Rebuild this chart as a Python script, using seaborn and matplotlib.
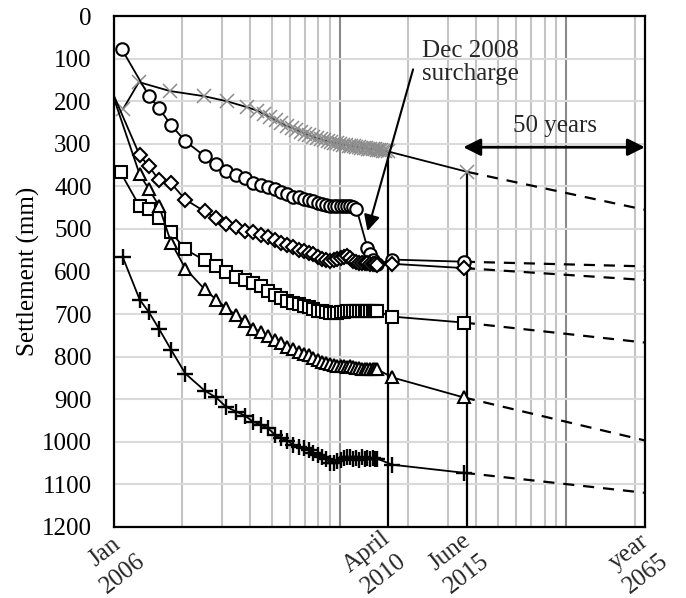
import matplotlib
matplotlib.use("Agg")
import matplotlib.pyplot as plt
import seaborn as sns

# time axis is logarithmic (arbitrary units, Jan 2006 = 1)
t_obs = [1.30, 1.43, 1.58, 1.79, 2.07, 2.52, 2.83, 3.13, 3.47, 3.80,
         4.12, 4.45, 4.80, 5.15, 5.50, 5.85, 6.20, 6.55, 6.90, 7.25,
         7.60, 7.95, 8.30, 8.65, 9.00, 9.35, 9.70, 10.05, 10.4, 10.75,
         11.1, 11.45, 11.8, 12.15, 12.5, 12.85, 13.2, 13.55, 13.9, 14.25, 14.6]
t_april = 17.0
t_june = 35.2
t_end = 222.0

date_ticks = [1.0, 16.3, 36.5, 222.0]
date_labels = ["Jan\n2006", "April\n2010", "June\n2015", "year\n2065"]
date_label_pos = [1.0, 14.3, 33.3, 206.0]

# gauge with x markers (grey)
xs_t = [1.096, 1.29, 1.77, 2.50, 3.16, 3.88, 4.3, 4.6, 4.9, 5.2, 5.5, 5.8, 6.1,
        6.4, 6.7, 7.0, 7.3, 7.6, 7.9, 8.2, 8.5, 8.8, 9.1, 9.4, 9.7, 10.0, 10.3,
        10.6, 10.9, 11.2, 11.5, 11.8, 12.1, 12.4, 12.7, 13.0, 13.3, 13.6, 13.9,
        14.2, 14.5, 14.8, 15.1, 15.4, 15.7, 16.3, 36.5]
xs_v = [219, 155, 176, 188, 200, 214, 222, 230, 238, 245, 252, 258, 262, 267,
        272, 276, 280, 283, 287, 289, 292, 294, 296, 297, 299, 300, 302, 303,
        304, 305, 306, 307, 308, 309, 310, 309, 311, 312, 312, 313, 314, 315,
        315, 316, 317, 318, 366]
xs_end = 455

circle_t = [1.085] + t_obs[1:33] + t_obs[36:] + [t_april, t_june]
circle_v = [78, 188, 216, 256, 294, 329, 348, 364, 374, 381, 391, 396, 401,
            407, 413, 419, 424, 426, 429, 431, 435, 438, 441, 443, 446, 447,
            447, 447, 446, 447, 447, 448, 452, 545, 560, 572, 580, 583, 572, 577]
circle_end = 588

diamond_t = [0.96] + t_obs + [t_april, t_june]
diamond_v = [165, 327, 353, 385, 393, 431, 459, 475, 489, 496, 506,
             508, 514, 519, 527, 532, 538, 542, 549, 553, 556,
             560, 565, 570, 572, 576, 574, 571, 568, 566, 563,
             568, 576, 578, 579, 580, 581, 580, 582, 583, 582, 584, 582, 592]
diamond_end = 620

square_t = [1.07] + t_obs + [t_april, t_june]
square_v = [367, 447, 454, 475, 508, 548, 574, 588, 602, 612, 619,
            628, 635, 645, 656, 663, 669, 673, 677, 680, 684,
            689, 692, 694, 696, 697, 698, 697, 696, 695, 694,
            694, 693, 692, 693, 694, 692, 692, 693, 694, 693, 694, 706, 720]
square_end = 767

triangle_t = [0.96] + t_obs + [t_april, t_june]
triangle_v = [165, 372, 407, 445, 532, 593, 642, 666, 685, 703, 717,
              734, 742, 752, 760, 768, 778, 783, 789, 793, 797,
              803, 808, 812, 815, 818, 820, 822, 823, 823, 824,
              823, 825, 826, 827, 828, 829, 829, 830, 830, 829, 830, 849, 896]
triangle_end = 997

plus_t = [1.096] + t_obs + [t_april, t_june]
plus_v = [567, 666, 696, 734, 784, 840, 880, 896, 918, 929, 939,
          953, 960, 968, 984, 992, 998, 1007, 1012, 1015, 1019,
          1026, 1031, 1036, 1040, 1049, 1050, 1046, 1042, 1038, 1035,
          1037, 1040, 1038, 1042, 1036, 1040, 1039, 1041, 1038, 1040, 1040,
          1054, 1073]
plus_end = 1120

sns.set_theme(style="white")
plt.rcParams["font.family"] = ["Liberation Serif", "DejaVu Serif"]

fig, ax = plt.subplots(figsize=(6.86, 5.98), dpi=100)
fig.subplots_adjust(left=0.166, right=0.940, bottom=0.119, top=0.973)
ax.set_xscale("log")

series = [
    (xs_t, xs_v, xs_end, dict(marker="x", ms=10, mec="#8c8c8c", mew=1.1)),
    (circle_t, circle_v, circle_end, dict(marker="o", ms=9, mfc="white", mec="black", mew=1.5)),
    (diamond_t, diamond_v, diamond_end, dict(marker="D", ms=6.8, mfc="white", mec="black", mew=1.5, markevery=slice(1, None))),
    (square_t, square_v, square_end, dict(marker="s", ms=8.5, mfc="white", mec="black", mew=1.5)),
    (triangle_t, triangle_v, triangle_end, dict(marker="^", ms=9, mfc="white", mec="black", mew=1.5, markevery=slice(1, None))),
    (plus_t, plus_v, plus_end, dict(marker="+", ms=11, mec="black", mew=1.7)),
]

# date reference lines, drawn up to the top gauge
ax.vlines([date_ticks[1], date_ticks[2]], [xs_v[-2], xs_v[-1]], 1200, color="black", lw=1.6, zorder=2)

for t, v, v_end, style in series:
    sns.lineplot(x=t, y=v, ax=ax, color="black", lw=1.3, estimator=None, sort=False, zorder=3, **style)
    # extrapolation to 2065
    sns.lineplot(x=[t[-1], t_end], y=[v[-1], v_end], ax=ax, color="black", lw=1.6,
                 linestyle=(0, (5, 4)), estimator=None, sort=False, zorder=2)

ax.set_xlim(1, t_end)
ax.set_ylim(1200, 0)
ax.set_yticks(range(0, 1201, 100))
ax.set_xticks(date_ticks)
ax.set_xticklabels([])
ax.xaxis.set_minor_formatter(plt.NullFormatter())
ax.tick_params(axis="both", which="both", length=0)
ax.tick_params(axis="y", labelsize=18, pad=16, colors="black")

ax.grid(False)
ax.set_axisbelow(True)
ax.xaxis.grid(True, which="minor", color="#c4c4c4", lw=1.5)
ax.yaxis.grid(True, which="major", color="#dadada", lw=1.5)
for dec in [1, 10, 100]:
    ax.axvline(dec, color="#8a8a8a", lw=1.5, zorder=0.5)

for sp in ax.spines.values():
    sp.set_color("black")
    sp.set_linewidth(1.6)
    sp.set_zorder(5)

ax.set_xlabel("")
ax.set_ylabel("Settlement (mm)", fontsize=18, color="black")
ax.yaxis.set_label_coords(-0.14, 0.5)

for pos, lab in zip(date_label_pos, date_labels):
    ax.text(pos, 1285, lab, rotation=38, ha="center", va="center",
            multialignment="center", fontsize=18, clip_on=False, linespacing=1.35)

ax.text(23.1, 57, "Dec 2008\nsurcharge", ha="left", va="top", fontsize=18, linespacing=1.05)
ax.annotate("", xy=(13.2, 505), xytext=(21.0, 125),
            arrowprops=dict(arrowstyle="-|>", color="black", lw=1.5,
                            mutation_scale=24, shrinkA=0, shrinkB=0))

ax.annotate("", xy=(t_end, 308), xytext=(35.0, 308),
            arrowprops=dict(arrowstyle="<|-|>", color="black", lw=2,
                            mutation_scale=26, shrinkA=0, shrinkB=0), zorder=6)
ax.text(89, 259, "50 years", ha="center", va="center", fontsize=18)

fig.savefig("out.png", dpi=100)
